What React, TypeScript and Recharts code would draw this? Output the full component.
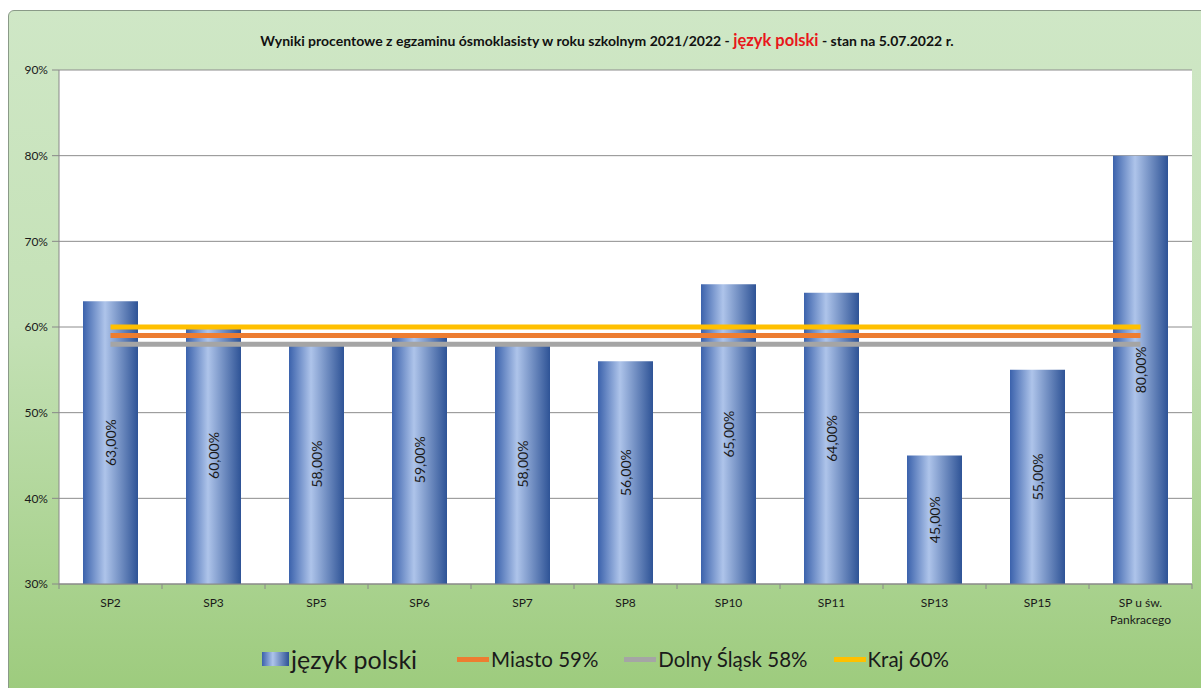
import React from 'react';
import { ComposedChart, Bar, Line, XAxis, YAxis, CartesianGrid, LabelList } from 'recharts';

const categories = ['SP2', 'SP3', 'SP5', 'SP6', 'SP7', 'SP8', 'SP10', 'SP11', 'SP13', 'SP15', 'SP u św.\nPankracego'];
const polskiValues = [63, 60, 58, 59, 58, 56, 65, 64, 45, 55, 80];
const miastoValues = [59, 59, 59, 59, 59, 59, 59, 59, 59, 59, 59];
const dolnySlaskValues = [58, 58, 58, 58, 58, 58, 58, 58, 58, 58, 58];
const krajValues = [60, 60, 60, 60, 60, 60, 60, 60, 60, 60, 60];
const yTicks = [30, 40, 50, 60, 70, 80, 90];

const data = categories.map((name, i) => ({
  name,
  polski: polskiValues[i],
  miasto: miastoValues[i],
  dolny: dolnySlaskValues[i],
  kraj: krajValues[i],
}));

const FONT = 'Lato, "Open Sans", sans-serif';
const BAND = 1133 / categories.length;

const XTick = (props: any) => {
  const { x, payload, index } = props;
  const lines = String(payload.value).split('\n');
  const axisY = 584;
  return (
    <g>
      <line x1={x - BAND / 2} x2={x - BAND / 2} y1={axisY} y2={axisY + 5} stroke="#888" />
      {index === categories.length - 1 && (
        <line x1={x + BAND / 2} x2={x + BAND / 2} y1={axisY} y2={axisY + 5} stroke="#888" />
      )}
      <text x={x} y={axisY + 23} textAnchor="middle" fontSize={12} fill="#1a1a1a" fontFamily={FONT}>
        {lines.map((l, i) => (
          <tspan key={i} x={x} dy={i === 0 ? 0 : 17}>
            {l}
          </tspan>
        ))}
      </text>
    </g>
  );
};

const BarLabel = (props: any) => {
  const { x, y, width, height, value } = props;
  const cx = x + width / 2;
  const cy = y + height / 2;
  const txt = Number(value).toFixed(2).replace('.', ',') + '%';
  return (
    <text
      x={cx}
      y={cy}
      transform={`rotate(-90, ${cx}, ${cy})`}
      textAnchor="middle"
      dominantBaseline="central"
      fontSize={14}
      fill="#1a1a1a"
      fontFamily={FONT}
    >
      {txt}
    </text>
  );
};

const LegendLine = ({ color }: { color: string }) => (
  <span style={{ display: 'inline-block', width: 32, height: 5, background: color, marginRight: 2 }} />
);

export default function App() {
  return (
    <div style={{ position: 'fixed', left: 0, top: 0, width: 1201, height: 688, overflow: 'hidden', background: '#fff' }}>
      <svg width={0} height={0} style={{ position: 'absolute' }}>
        <defs>
          <linearGradient id="barGrad" x1="0" y1="0" x2="1" y2="0">
            <stop offset="0%" stopColor="#3b62ac" />
            <stop offset="40%" stopColor="#aec4ea" />
            <stop offset="100%" stopColor="#2e5396" />
          </linearGradient>
        </defs>
      </svg>
      <div
        style={{
          position: 'absolute',
          left: 8,
          top: 10,
          width: 1220,
          height: 700,
          border: '1px solid #8a9a88',
          borderRadius: 6,
          background: 'linear-gradient(to bottom, #cfe7c6 0%, #c4e1b6 45%, #9bca7a 100%)',
        }}
      />
      <div
        style={{
          position: 'absolute',
          left: 0,
          width: 1214,
          top: 30,
          textAlign: 'center',
          fontFamily: FONT,
          fontSize: 14,
          fontWeight: 700,
          color: '#111',
          whiteSpace: 'nowrap',
        }}
      >
        Wyniki procentowe z egzaminu ósmoklasisty w roku szkolnym 2021/2022 -{' '}
        <span style={{ color: '#e8161b', fontSize: 16.5 }}>język polski</span> - stan na 5.07.2022 r.
      </div>
      <div style={{ position: 'absolute', left: 0, top: 0 }}>
        <ComposedChart width={1201} height={688} data={data} margin={{ top: 70, right: 9, bottom: 54, left: 0 }}>
          <CartesianGrid vertical={false} stroke="#8c8c8c" fill="#ffffff" />
          <XAxis
            dataKey="name"
            interval={0}
            tickLine={false}
            axisLine={{ stroke: '#888' }}
            tick={<XTick />}
            height={50}
          />
          <YAxis
            domain={[30, 90]}
            ticks={yTicks}
            width={59}
            tickFormatter={(v: number) => `${v}%`}
            tick={{ fontSize: 12, fill: '#1a1a1a', fontFamily: FONT }}
            tickSize={7}
            tickMargin={4}
            axisLine={{ stroke: '#888' }}
            tickLine={{ stroke: '#888' }}
          />
          <Bar dataKey="polski" barSize={55} fill="url(#barGrad)" isAnimationActive={false}>
            <LabelList dataKey="polski" content={<BarLabel />} />
          </Bar>
          <Line dataKey="dolny" stroke="#a5a5a5" strokeWidth={5} dot={false} activeDot={false} isAnimationActive={false} />
          <Line dataKey="miasto" stroke="#ed7d31" strokeWidth={5} dot={false} activeDot={false} isAnimationActive={false} />
          <Line dataKey="kraj" stroke="#ffc000" strokeWidth={5} dot={false} activeDot={false} isAnimationActive={false} />
        </ComposedChart>
      </div>
      <div
        style={{
          position: 'absolute',
          left: 262,
          top: 644,
          display: 'flex',
          alignItems: 'center',
          fontFamily: FONT,
          color: '#1a1a1a',
          whiteSpace: 'nowrap',
        }}
      >
        <span
          style={{
            display: 'inline-block',
            width: 27,
            height: 14,
            background: 'linear-gradient(to right, #3b62ac, #aec4ea 40%, #2e5396)',
            marginRight: 2,
          }}
        />
        <span style={{ fontSize: 25, marginRight: 40 }}>język polski</span>
        <LegendLine color="#ed7d31" />
        <span style={{ fontSize: 20.5, marginRight: 26 }}>Miasto 59%</span>
        <LegendLine color="#a5a5a5" />
        <span style={{ fontSize: 20.5, marginRight: 26 }}>Dolny Śląsk 58%</span>
        <LegendLine color="#ffc000" />
        <span style={{ fontSize: 20.5 }}>Kraj 60%</span>
      </div>
    </div>
  );
}
